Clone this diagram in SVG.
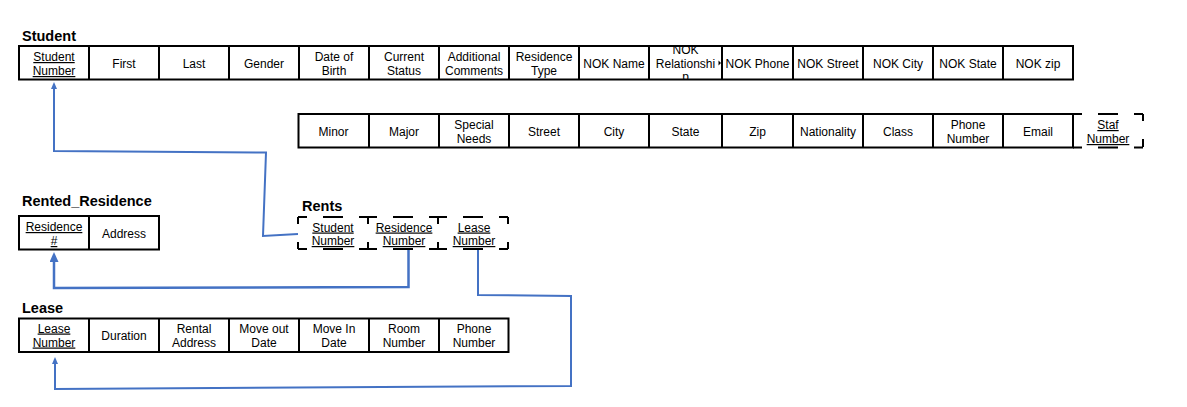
<svg xmlns="http://www.w3.org/2000/svg" width="1187" height="407" viewBox="0 0 1187 407">
<style>
text{font-family:"Liberation Sans",Arial,sans-serif;fill:#000}
.t{font-size:14.5px;font-weight:bold}
.c{font-size:12px;text-anchor:middle}
.u{text-decoration:underline}
.box{fill:#fff;stroke:#000;stroke-width:2}
.div{stroke:#000;stroke-width:2}
.dh{stroke:#000;stroke-width:2;fill:none;stroke-dasharray:9 16 20 16 9 100}
.dv{stroke:#000;stroke-width:2;fill:none;stroke-dasharray:7 18 8 100}
.conn{fill:none;stroke:#4472C4;stroke-width:2}
</style>
<defs>
<marker id="ahs" viewBox="0 0 7 6" refX="0" refY="3" markerWidth="7" markerHeight="6" markerUnits="userSpaceOnUse" orient="auto"><path d="M0,0 L7,3 L0,6 z" fill="#4472C4"/></marker>
<marker id="ahb" viewBox="0 0 10 9" refX="0" refY="4.5" markerWidth="10" markerHeight="9" markerUnits="userSpaceOnUse" orient="auto"><path d="M0,0 L10,4.5 L0,9 z" fill="#4472C4"/></marker>
<clipPath id="clipRel"><rect x="650" y="45" width="71" height="35"/></clipPath>
</defs>

<g id="student">
<text class="t" x="22" y="41">Student</text>
<rect class="box" x="19" y="46" width="1054" height="33.5"/>
<path class="div" d="M89,46V79.5M159,46V79.5M229,46V79.5M299,46V79.5M369,46V79.5M439,46V79.5M509,46V79.5M579,46V79.5M649,46V79.5M722,46V79.5M793,46V79.5M863,46V79.5M933,46V79.5M1003,46V79.5"/>
<text class="c u" x="54" y="61">Student</text>
<text class="c u" x="54" y="75">Number</text>
<text class="c" x="124" y="67.5">First</text>
<text class="c" x="194" y="67.5">Last</text>
<text class="c" x="264" y="67.5">Gender</text>
<text class="c" x="334" y="61">Date of</text>
<text class="c" x="334" y="75">Birth</text>
<text class="c" x="404" y="61">Current</text>
<text class="c" x="404" y="75">Status</text>
<text class="c" x="474" y="61">Additional</text>
<text class="c" x="474" y="75">Comments</text>
<text class="c" x="544" y="61">Residence</text>
<text class="c" x="544" y="75">Type</text>
<text class="c" x="614" y="67.5">NOK Name</text>
<g clip-path="url(#clipRel)">
<text class="c" x="685.5" y="54">NOK</text>
<text class="c" x="685.5" y="67.5">Relationshi</text>
<text class="c" x="685.5" y="81">p</text>
</g>
<polygon points="718.5,60.5 721,63 718.5,65.5" fill="#000"/>
<text class="c" x="757.5" y="67.5">NOK Phone</text>
<text class="c" x="828" y="67.5">NOK Street</text>
<text class="c" x="898" y="67.5">NOK City</text>
<text class="c" x="968" y="67.5">NOK State</text>
<text class="c" x="1038" y="67.5">NOK zip</text>
</g>

<g id="student-cont">
<rect class="box" x="298.5" y="114" width="774.5" height="33.5"/>
<path class="div" d="M369,114V147.5M439,114V147.5M509,114V147.5M579,114V147.5M649,114V147.5M722,114V147.5M793,114V147.5M863,114V147.5M933,114V147.5M1003,114V147.5"/>
<text class="c" x="333.5" y="135.5">Minor</text>
<text class="c" x="404" y="135.5">Major</text>
<text class="c" x="474" y="129">Special</text>
<text class="c" x="474" y="143">Needs</text>
<text class="c" x="544" y="135.5">Street</text>
<text class="c" x="614" y="135.5">City</text>
<text class="c" x="685.5" y="135.5">State</text>
<text class="c" x="757.5" y="135.5">Zip</text>
<text class="c" x="828" y="135.5">Nationality</text>
<text class="c" x="898" y="135.5">Class</text>
<text class="c" x="968" y="129">Phone</text>
<text class="c" x="968" y="143">Number</text>
<text class="c" x="1038" y="135.5">Email</text>
<path class="dh" d="M1073,114H1143M1073,147.5H1143"/>
<path class="dv" d="M1143,114V147.5"/>
<text class="c u" x="1108" y="129">Staf</text>
<text class="c u" x="1108" y="143">Number</text>
</g>

<g id="rented-residence">
<text class="t" x="22" y="205.5">Rented_Residence</text>
<rect class="box" x="19" y="216" width="140" height="33.5"/>
<path class="div" d="M89,216V249.5"/>
<text class="c u" x="54" y="231">Residence</text>
<text class="c u" x="54" y="245">#</text>
<text class="c" x="124" y="238">Address</text>
</g>

<g id="rents">
<text class="t" x="302" y="211">Rents</text>
<path class="dh" d="M298,217H368M368,217H438M438,217H508M298,249H368M368,249H438M438,249H508"/>
<path class="dv" d="M298,217V249M368,217V249M438,217V249M508,217V249"/>
<text class="c u" x="333" y="231.5">Student</text>
<text class="c u" x="333" y="245">Number</text>
<text class="c u" x="404" y="231.5">Residence</text>
<text class="c u" x="404" y="245">Number</text>
<text class="c u" x="474" y="231.5">Lease</text>
<text class="c u" x="474" y="245">Number</text>
</g>

<g id="lease">
<text class="t" x="22" y="313">Lease</text>
<rect class="box" x="19" y="318.5" width="489.5" height="33.5"/>
<path class="div" d="M89,318.5V352M159,318.5V352M229,318.5V352M299,318.5V352M369,318.5V352M439,318.5V352"/>
<text class="c u" x="54" y="332.5">Lease</text>
<text class="c u" x="54" y="346.5">Number</text>
<text class="c" x="124" y="339.5">Duration</text>
<text class="c" x="194" y="332.5">Rental</text>
<text class="c" x="194" y="346.5">Address</text>
<text class="c" x="264" y="332.5">Move out</text>
<text class="c" x="264" y="346.5">Date</text>
<text class="c" x="334" y="332.5">Move In</text>
<text class="c" x="334" y="346.5">Date</text>
<text class="c" x="404" y="332.5">Room</text>
<text class="c" x="404" y="346.5">Number</text>
<text class="c" x="474" y="332.5">Phone</text>
<text class="c" x="474" y="346.5">Number</text>
</g>

<g id="connectors">
<path class="conn" d="M298,234 L263,236 L266,152.5 L54,151 L54,89" marker-end="url(#ahs)"/>
<path class="conn" style="stroke-width:2.5" d="M408.5,250 L408.5,287 L54,288 L54,262" marker-end="url(#ahb)"/>
<path class="conn" d="M478,250 L478,295 L571,296 L571,386 L55,389 L55,364" marker-end="url(#ahs)"/>
</g>
</svg>
